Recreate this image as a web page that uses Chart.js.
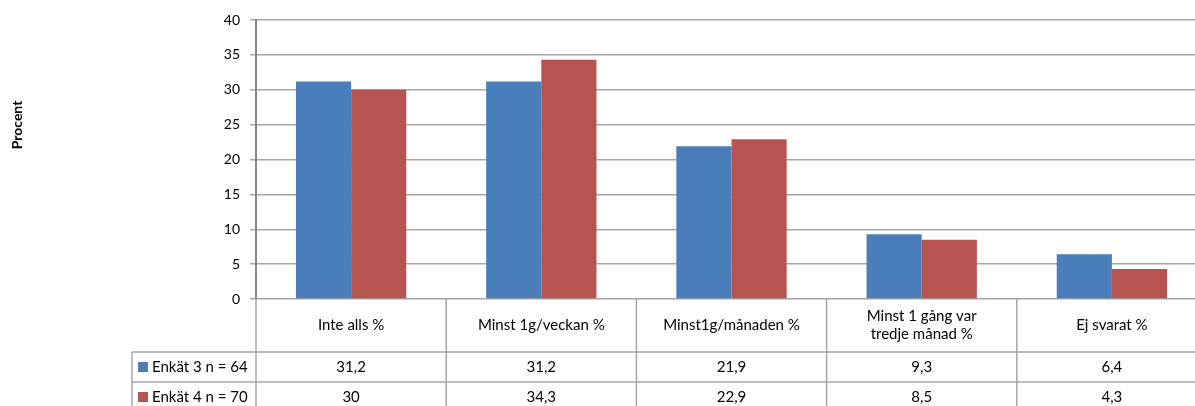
<!DOCTYPE html>
<html>
<head>
<meta charset="utf-8">
<script src="https://cdn.jsdelivr.net/npm/chart.js@4/dist/chart.umd.min.js"></script>
<style>
html,body{margin:0;padding:0;background:#fff;overflow:hidden;}
#wrap{width:1210px;height:406px;position:relative;}
</style>
</head>
<body>
<div id="wrap"><canvas id="chart"></canvas></div>
<script>
// category labels (lines of each table header cell)
var categories = [["Inte alls %"], ["Minst 1g/veckan %"], ["Minst1g/månaden %"], ["Minst 1 gång var", "tredje månad %"], ["Ej svarat %"]];
var seriesNames = ["Enkät 3 n = 64", "Enkät 4 n = 70"];
var enkat3 = [31.2, 31.2, 21.9, 9.3, 6.4];
var enkat4 = [30, 34.3, 22.9, 8.5, 4.3];
var yMin = 0, yMax = 40, yStep = 5;
var yTitle = "Procent";

var colors = ["#4a7ebb", "#b65452"];
var lineCol = "#a6a6a6";
var fontName = "Lato, 'Liberation Sans', sans-serif";

function fmt(v) {
  return String(v).replace(".", ",");
}

// draws the data table under the plot plus the rotated axis title
var tablePlugin = {
  id: "dataTable",
  afterDraw: function(chart) {
    var ctx = chart.ctx;
    var xs = chart.scales.x;
    var area = chart.chartArea;
    var top = area.bottom;
    var rowH = [53, 30, 30];
    var y1 = top + rowH[0], y2 = y1 + rowH[1], y3 = y2 + rowH[2];
    var legendLeft = 132;
    var half = (xs.getPixelForValue(1) - xs.getPixelForValue(0)) / 2;

    ctx.save();
    ctx.strokeStyle = lineCol;
    ctx.lineWidth = 1.5;
    ctx.beginPath();
    // horizontal lines
    ctx.moveTo(legendLeft, y1); ctx.lineTo(area.right, y1);
    ctx.moveTo(legendLeft, y2); ctx.lineTo(area.right, y2);
    ctx.moveTo(legendLeft, y3); ctx.lineTo(area.right, y3);
    // vertical lines
    ctx.moveTo(legendLeft, y1); ctx.lineTo(legendLeft, y3);
    for (var i = 0; i <= categories.length; i++) {
      var x = xs.getPixelForValue(0) - half + i * half * 2;
      ctx.moveTo(x, top); ctx.lineTo(x, y3);
    }
    ctx.stroke();

    ctx.fillStyle = "#000";
    ctx.font = "15px " + fontName;
    ctx.textAlign = "center";
    ctx.textBaseline = "middle";
    categories.forEach(function(lines, i) {
      var cx = xs.getPixelForValue(i);
      var cy = top + rowH[0] / 2;
      var lh = 18;
      lines.forEach(function(t, j) {
        ctx.fillText(t, cx, cy + (j - (lines.length - 1) / 2) * lh);
      });
      ctx.fillText(fmt(enkat3[i]), cx, y1 + rowH[1] / 2);
      ctx.fillText(fmt(enkat4[i]), cx, y2 + rowH[2] / 2);
    });

    // legend keys and series names
    ctx.textAlign = "left";
    [y1, y2].forEach(function(ry, k) {
      var cy = ry + rowH[k + 1] / 2;
      ctx.fillStyle = colors[k];
      ctx.fillRect(legendLeft + 6, cy - 5, 10, 10);
      ctx.fillStyle = "#000";
      ctx.fillText(seriesNames[k], legendLeft + 20, cy);
    });

    // axis title
    ctx.translate(17, 125);
    ctx.rotate(-Math.PI / 2);
    ctx.textAlign = "center";
    ctx.font = "bold 14px " + fontName;
    ctx.fillText(yTitle, 0, 0);
    ctx.restore();
  }
};

new Chart(document.getElementById("chart"), {
  type: "bar",
  data: {
    labels: categories,
    datasets: [{
      label: seriesNames[0],
      data: enkat3,
      backgroundColor: colors[0],
      categoryPercentage: 0.58,
      barPercentage: 1
    }, {
      label: seriesNames[1],
      data: enkat4,
      backgroundColor: colors[1],
      categoryPercentage: 0.58,
      barPercentage: 1
    }]
  },
  options: {
    responsive: true,
    maintainAspectRatio: false,
    animation: false,
    layout: {
      padding: { left: 0, right: 3, top: 20, bottom: 107 }
    },
    plugins: {
      legend: { display: false },
      tooltip: { enabled: false }
    },
    scales: {
      x: {
        display: false
      },
      y: {
        min: yMin,
        max: yMax,
        afterFit: function(s) { s.width = 256; },
        ticks: {
          stepSize: yStep,
          padding: 10,
          color: "#000",
          font: { family: fontName, size: 14 }
        },
        grid: {
          color: lineCol,
          lineWidth: 1.5,
          tickLength: 6,
          tickColor: lineCol
        },
        border: { color: "#868686", width: 2 }
      }
    }
  },
  plugins: [tablePlugin]
});
</script>
</body>
</html>
